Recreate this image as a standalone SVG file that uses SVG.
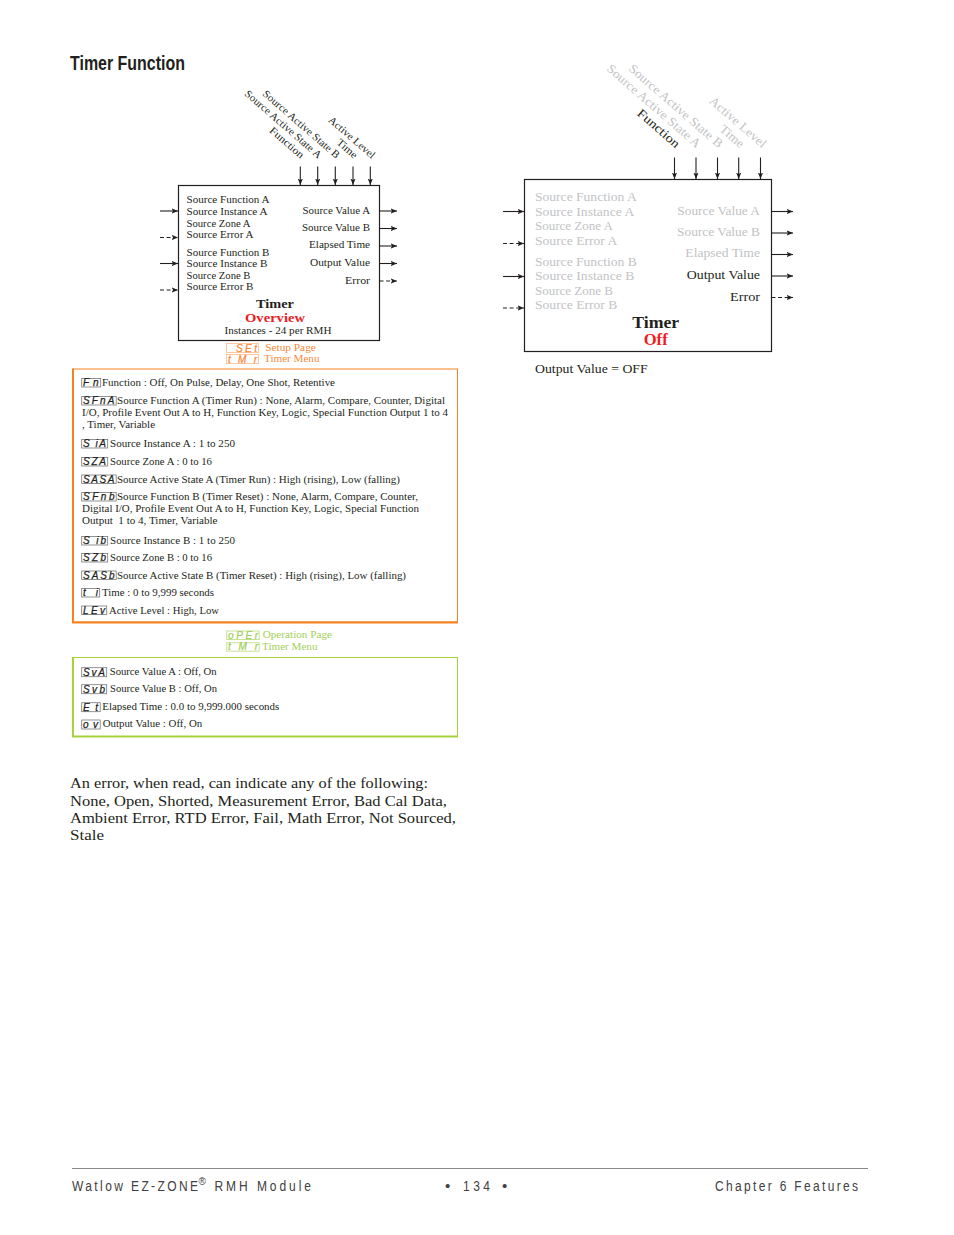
<svg xmlns="http://www.w3.org/2000/svg" width="954" height="1235" viewBox="0 0 954 1235">
<style>
text{font-family:"Liberation Serif",serif;fill:#231f20}
.s{font-size:10.5px}
.r{font-size:12.5px}
.p{font-size:10.2px}
.e{text-anchor:end}
.m{text-anchor:middle}
.g{fill:#c2c3c5}
.b{font-weight:bold}
.red{fill:#ed1c24}
.or{fill:#f58a3c;font-size:10.2px}
.gn{fill:#a4d05a;font-size:10.2px}
.seg{font-family:"Liberation Sans",sans-serif;font-style:italic;font-size:10px;fill:#231f20;stroke:#231f20;stroke-width:.25}
.sego{fill:#f58a3c;stroke:#f58a3c}
.segg{fill:#a4d05a;stroke:#a4d05a}
.ib{fill:none;stroke:#77787b;stroke-width:.8}
.ibo{fill:none;stroke:#fbc8a0;stroke-width:1}
.ibg{fill:none;stroke:#c6e29a;stroke-width:1}
.box{fill:#fff;stroke:#231f20;stroke-width:1.2}
.c{stroke:#231f20;stroke-width:1.1;fill:none;marker-end:url(#a)}
.d{stroke-dasharray:4 2.6}
.foot{font-family:"Liberation Sans",sans-serif;font-size:15px;fill:#414042}
</style>
<defs><marker id="a" markerUnits="userSpaceOnUse" markerWidth="8" markerHeight="6" refX="6.5" refY="3" orient="auto"><path d="M0,.4L6.5,3L0,5.6L1.6,3z" fill="#231f20"/></marker></defs>
<rect width="954" height="1235" fill="#fff"/>
<text id="title" x="70" y="69.5" textLength="115" lengthAdjust="spacingAndGlyphs" style="font-family:'Liberation Sans',sans-serif;font-weight:bold;font-size:20px">Timer Function</text>

<g id="timer-overview">
<rect class="box" x="178.5" y="185.5" width="201" height="155"/>
<g class="s">
<text x="186.5" y="203" textLength="83" lengthAdjust="spacingAndGlyphs">Source Function A</text>
<text x="186.5" y="214.5" textLength="81" lengthAdjust="spacingAndGlyphs">Source Instance A</text>
<text x="186.5" y="226.5" textLength="64" lengthAdjust="spacingAndGlyphs">Source Zone A</text>
<text x="186.5" y="238" textLength="67" lengthAdjust="spacingAndGlyphs">Source Error A</text>
<text x="186.5" y="255.5" textLength="83" lengthAdjust="spacingAndGlyphs">Source Function B</text>
<text x="186.5" y="267" textLength="81" lengthAdjust="spacingAndGlyphs">Source Instance B</text>
<text x="186.5" y="279" textLength="64" lengthAdjust="spacingAndGlyphs">Source Zone B</text>
<text x="186.5" y="290" textLength="67" lengthAdjust="spacingAndGlyphs">Source Error B</text>
<text class="e" x="370" y="214" textLength="67.5" lengthAdjust="spacingAndGlyphs">Source Value A</text>
<text class="e" x="370" y="231" textLength="68" lengthAdjust="spacingAndGlyphs">Source Value B</text>
<text class="e" x="370" y="248" textLength="61" lengthAdjust="spacingAndGlyphs">Elapsed Time</text>
<text class="e" x="370" y="266" textLength="60" lengthAdjust="spacingAndGlyphs">Output Value</text>
<text class="e" x="370" y="284" textLength="25" lengthAdjust="spacingAndGlyphs">Error</text>
<text class="e" transform="translate(300.5,159) rotate(41)" textLength="42" lengthAdjust="spacingAndGlyphs">Function</text>
<text class="e" transform="translate(318,159) rotate(41)" textLength="98" lengthAdjust="spacingAndGlyphs">Source Active State A</text>
<text class="e" transform="translate(336,159) rotate(41)" textLength="98" lengthAdjust="spacingAndGlyphs">Source Active State B</text>
<text class="e" transform="translate(354,159) rotate(41)" textLength="24" lengthAdjust="spacingAndGlyphs">Time</text>
<text class="e" transform="translate(371.5,159) rotate(41)" textLength="58" lengthAdjust="spacingAndGlyphs">Active Level</text>
<text class="m b" x="275" y="308" textLength="38" lengthAdjust="spacingAndGlyphs" style="font-size:13px">Timer</text>
<text class="m b red" x="275" y="322" textLength="60" lengthAdjust="spacingAndGlyphs" style="font-size:13px">Overview</text>
<text class="m" x="278" y="334" textLength="107" lengthAdjust="spacingAndGlyphs">Instances - 24 per RMH</text>
</g>
</g>

<g id="timer-off">
<rect class="box" x="524.5" y="179.5" width="247" height="172"/>
<g class="r">
<text class="g" x="535" y="201" textLength="101.7" lengthAdjust="spacingAndGlyphs">Source Function A</text>
<text class="g" x="535" y="216" textLength="99.3" lengthAdjust="spacingAndGlyphs">Source Instance A</text>
<text class="g" x="535" y="230" textLength="78" lengthAdjust="spacingAndGlyphs">Source Zone A</text>
<text class="g" x="535" y="245" textLength="82.3" lengthAdjust="spacingAndGlyphs">Source Error A</text>
<text class="g" x="535" y="266" textLength="101.7" lengthAdjust="spacingAndGlyphs">Source Function B</text>
<text class="g" x="535" y="280" textLength="99.3" lengthAdjust="spacingAndGlyphs">Source Instance B</text>
<text class="g" x="535" y="295" textLength="78" lengthAdjust="spacingAndGlyphs">Source Zone B</text>
<text class="g" x="535" y="309" textLength="82.3" lengthAdjust="spacingAndGlyphs">Source Error B</text>
<text class="g e" x="760" y="215" textLength="82.7" lengthAdjust="spacingAndGlyphs">Source Value A</text>
<text class="g e" x="760" y="236" textLength="83" lengthAdjust="spacingAndGlyphs">Source Value B</text>
<text class="g e" x="760" y="257" textLength="74.7" lengthAdjust="spacingAndGlyphs">Elapsed Time</text>
<text class="e" x="760" y="279" textLength="73.3" lengthAdjust="spacingAndGlyphs">Output Value</text>
<text class="e" x="760" y="301" textLength="30" lengthAdjust="spacingAndGlyphs">Error</text>
<text class="e" transform="translate(675.5,148.5) rotate(41)" textLength="52" lengthAdjust="spacingAndGlyphs">Function</text>
<text class="g e" transform="translate(696.5,148.5) rotate(41)" textLength="120" lengthAdjust="spacingAndGlyphs">Source Active State A</text>
<text class="g e" transform="translate(718.5,148.5) rotate(41)" textLength="120" lengthAdjust="spacingAndGlyphs">Source Active State B</text>
<text class="g e" transform="translate(740,148.5) rotate(41)" textLength="28" lengthAdjust="spacingAndGlyphs">Time</text>
<text class="g e" transform="translate(762,148.5) rotate(41)" textLength="71" lengthAdjust="spacingAndGlyphs">Active Level</text>
<text class="m b" x="655.7" y="327.5" textLength="47" lengthAdjust="spacingAndGlyphs" style="font-size:16px">Timer</text>
<text class="m b red" x="655.7" y="345" textLength="24" lengthAdjust="spacingAndGlyphs" style="font-size:16px">Off</text>
<text x="535" y="373" textLength="112.7" lengthAdjust="spacingAndGlyphs">Output Value = OFF</text>
</g>
</g>

<g id="connectors">
<line class="c" x1="300.3" y1="166.5" x2="300.3" y2="185"/><line class="c" x1="317.7" y1="166.5" x2="317.7" y2="185"/><line class="c" x1="335.3" y1="166.5" x2="335.3" y2="185"/><line class="c" x1="353" y1="166.5" x2="353" y2="185"/><line class="c" x1="370.3" y1="166.5" x2="370.3" y2="185"/>
<line class="c" x1="160" y1="211" x2="178" y2="211"/><line class="c d" x1="160" y1="237.5" x2="178" y2="237.5"/><line class="c" x1="160" y1="263.5" x2="178" y2="263.5"/><line class="c d" x1="160" y1="290" x2="178" y2="290"/>
<line class="c" x1="379.5" y1="211" x2="397" y2="211"/><line class="c" x1="379.5" y1="228.5" x2="397" y2="228.5"/><line class="c" x1="379.5" y1="246" x2="397" y2="246"/><line class="c" x1="379.5" y1="263.5" x2="397" y2="263.5"/><line class="c d" x1="379.5" y1="281" x2="397" y2="281"/>
<line class="c" x1="674.5" y1="157.5" x2="674.5" y2="179"/><line class="c" x1="696" y1="157.5" x2="696" y2="179"/><line class="c" x1="717.5" y1="157.5" x2="717.5" y2="179"/><line class="c" x1="738.7" y1="157.5" x2="738.7" y2="179"/><line class="c" x1="760.5" y1="157.5" x2="760.5" y2="179"/>
<line class="c" x1="503" y1="211.5" x2="524" y2="211.5"/><line class="c d" x1="503" y1="243.5" x2="524" y2="243.5"/><line class="c" x1="503" y1="276.5" x2="524" y2="276.5"/><line class="c d" x1="503" y1="308" x2="524" y2="308"/>
<line class="c" x1="771.5" y1="211.5" x2="793" y2="211.5"/><line class="c" x1="771.5" y1="233" x2="793" y2="233"/><line class="c" x1="771.5" y1="254.5" x2="793" y2="254.5"/><line class="c" x1="771.5" y1="276" x2="793" y2="276"/><line class="c d" x1="771.5" y1="297.5" x2="793" y2="297.5"/>
</g>

<g id="setup-header">
<rect class="ibo" x="226.5" y="343.5" width="32" height="9"/><text class="seg sego" x="236" y="351.5" textLength="21">SEt</text>
<rect class="ibo" x="226.5" y="354.5" width="32" height="9"/><text class="seg sego" x="228" y="362.5" textLength="29">tMr</text>
<text class="or" x="265.3" y="351" textLength="50.5" lengthAdjust="spacingAndGlyphs">Setup Page</text>
<text class="or" x="264" y="362" textLength="55.5" lengthAdjust="spacingAndGlyphs">Timer Menu</text>
</g>

<g id="setup-panel">
<rect x="73" y="369" width="384.5" height="253" fill="none" stroke="#f58220"/>
<path d="M73 368.5V623M72 622.5H458" fill="none" stroke="#f58220" stroke-width="2"/>
<g class="p">
<rect class="ib" x="81.7" y="378.5" width="19" height="8.5"/><text class="seg" x="83" y="386" textLength="15.5">Fn</text>
<text x="102" y="386" textLength="233" lengthAdjust="spacingAndGlyphs">Function : Off, On Pulse, Delay, One Shot, Retentive</text>
<rect class="ib" x="81.7" y="396.5" width="34.5" height="8.5"/><text class="seg" x="83" y="404" textLength="31.5">SFnA</text>
<text x="117" y="404" textLength="328" lengthAdjust="spacingAndGlyphs">Source Function A (Timer Run) : None, Alarm, Compare, Counter, Digital</text>
<text x="82" y="416" textLength="366" lengthAdjust="spacingAndGlyphs">I/O, Profile Event Out A to H, Function Key, Logic, Special Function Output 1 to 4</text>
<text x="82" y="427.5" textLength="73" lengthAdjust="spacingAndGlyphs">, Timer, Variable</text>
<rect class="ib" x="81.7" y="439.5" width="26" height="8.5"/><text class="seg" x="83" y="447" textLength="23">S iA</text>
<text x="110" y="447" textLength="125" lengthAdjust="spacingAndGlyphs">Source Instance A : 1 to 250</text>
<rect class="ib" x="81.7" y="457.5" width="26" height="8.5"/><text class="seg" x="83" y="465" textLength="23">SZA</text>
<text x="110" y="465" textLength="102" lengthAdjust="spacingAndGlyphs">Source Zone A : 0 to 16</text>
<rect class="ib" x="81.7" y="475" width="34.5" height="8.5"/><text class="seg" x="83" y="482.5" textLength="31.5">SASA</text>
<text x="117" y="482.5" textLength="283" lengthAdjust="spacingAndGlyphs">Source Active State A (Timer Run) : High (rising), Low (falling)</text>
<rect class="ib" x="81.7" y="492.5" width="34.5" height="8.5"/><text class="seg" x="83" y="500" textLength="31.5">SFnb</text>
<text x="117" y="500" textLength="301" lengthAdjust="spacingAndGlyphs">Source Function B (Timer Reset) : None, Alarm, Compare, Counter,</text>
<text x="82" y="512" textLength="337" lengthAdjust="spacingAndGlyphs">Digital I/O, Profile Event Out A to H, Function Key, Logic, Special Function</text>
<text x="82" y="523.5" textLength="135.5" lengthAdjust="spacingAndGlyphs" xml:space="preserve">Output  1 to 4, Timer, Variable</text>
<rect class="ib" x="81.7" y="536.5" width="26" height="8.5"/><text class="seg" x="83" y="544" textLength="23">S ib</text>
<text x="110" y="544" textLength="125" lengthAdjust="spacingAndGlyphs">Source Instance B : 1 to 250</text>
<rect class="ib" x="81.7" y="553.5" width="26" height="8.5"/><text class="seg" x="83" y="561" textLength="23">SZb</text>
<text x="110" y="561" textLength="102" lengthAdjust="spacingAndGlyphs">Source Zone B : 0 to 16</text>
<rect class="ib" x="81.7" y="571" width="34.5" height="8.5"/><text class="seg" x="83" y="578.5" textLength="31.5">SASb</text>
<text x="117" y="578.5" textLength="289" lengthAdjust="spacingAndGlyphs">Source Active State B (Timer Reset) : High (rising), Low (falling)</text>
<rect class="ib" x="81.7" y="588.5" width="18" height="8.5"/><text class="seg" x="83" y="596" textLength="15">t i</text>
<text x="102" y="596" textLength="112" lengthAdjust="spacingAndGlyphs">Time : 0 to 9,999 seconds</text>
<rect class="ib" x="81.7" y="606" width="25" height="8.5"/><text class="seg" x="83" y="613.5" textLength="22">LEv</text>
<text x="109" y="613.5" textLength="110" lengthAdjust="spacingAndGlyphs">Active Level : High, Low</text>
</g>
</g>

<g id="operation-header">
<rect class="ibg" x="226.7" y="631" width="32.5" height="8.5"/><text class="seg segg" x="228" y="638.7" textLength="30">oPEr</text>
<rect class="ibg" x="226.7" y="642.7" width="32.5" height="8.5"/><text class="seg segg" x="228" y="650.4" textLength="30">tMr</text>
<text class="gn" x="262.7" y="638" textLength="69.3" lengthAdjust="spacingAndGlyphs">Operation Page</text>
<text class="gn" x="262" y="650" textLength="55.5" lengthAdjust="spacingAndGlyphs">Timer Menu</text>
</g>

<g id="operation-panel">
<rect x="73" y="657.5" width="384.5" height="79" fill="none" stroke="#a6d23c"/>
<path d="M73 657V737.5M72 736.5H458" fill="none" stroke="#a6d23c" stroke-width="2"/>
<g class="p">
<rect class="ib" x="81.7" y="667.7" width="25" height="9"/><text class="seg" x="83" y="675.7" textLength="22">SvA</text>
<text x="109.7" y="675" textLength="107" lengthAdjust="spacingAndGlyphs">Source Value A : Off, On</text>
<rect class="ib" x="81.7" y="684.7" width="25" height="9"/><text class="seg" x="83" y="692.7" textLength="22">Svb</text>
<text x="110" y="692" textLength="107" lengthAdjust="spacingAndGlyphs">Source Value B : Off, On</text>
<rect class="ib" x="81.7" y="702.7" width="18.5" height="9"/><text class="seg" x="83" y="710.7" textLength="15">Et</text>
<text x="102.3" y="710" textLength="177" lengthAdjust="spacingAndGlyphs">Elapsed Time : 0.0 to 9,999.000 seconds</text>
<rect class="ib" x="81.7" y="720" width="18.5" height="9"/><text class="seg" x="83" y="728" textLength="15">ov</text>
<text x="102.7" y="727" textLength="99.5" lengthAdjust="spacingAndGlyphs">Output Value : Off, On</text>
</g>
</g>

<g id="error-note" style="font-size:14.5px">
<text x="70" y="788" textLength="358" lengthAdjust="spacingAndGlyphs">An error, when read, can indicate any of the following:</text>
<text x="70" y="805.5" textLength="377" lengthAdjust="spacingAndGlyphs">None, Open, Shorted, Measurement Error, Bad Cal Data,</text>
<text x="70" y="823" textLength="386" lengthAdjust="spacingAndGlyphs">Ambient Error, RTD Error, Fail, Math Error, Not Sourced,</text>
<text x="70" y="840" textLength="34" lengthAdjust="spacingAndGlyphs">Stale</text>
</g>

<g id="footer">
<line x1="72" y1="1168.5" x2="868" y2="1168.5" stroke="#8a8a8c"/>
<text class="foot" transform="translate(72,1191) scale(.8,1)" textLength="157.5">Watlow EZ-ZONE</text>
<text class="foot" x="198.5" y="1185" style="font-size:10px">®</text>
<text class="foot" transform="translate(214.5,1191) scale(.8,1)" textLength="120.6">RMH Module</text>
<text class="foot" x="445" y="1191" style="font-size:15px">•</text>
<text class="foot" transform="translate(463,1191) scale(.8,1)" textLength="33.8">134</text>
<text class="foot" x="502" y="1191" style="font-size:15px">•</text>
<text class="foot" transform="translate(715,1191) scale(.8,1)" textLength="178.7">Chapter 6 Features</text>
</g>
</svg>
